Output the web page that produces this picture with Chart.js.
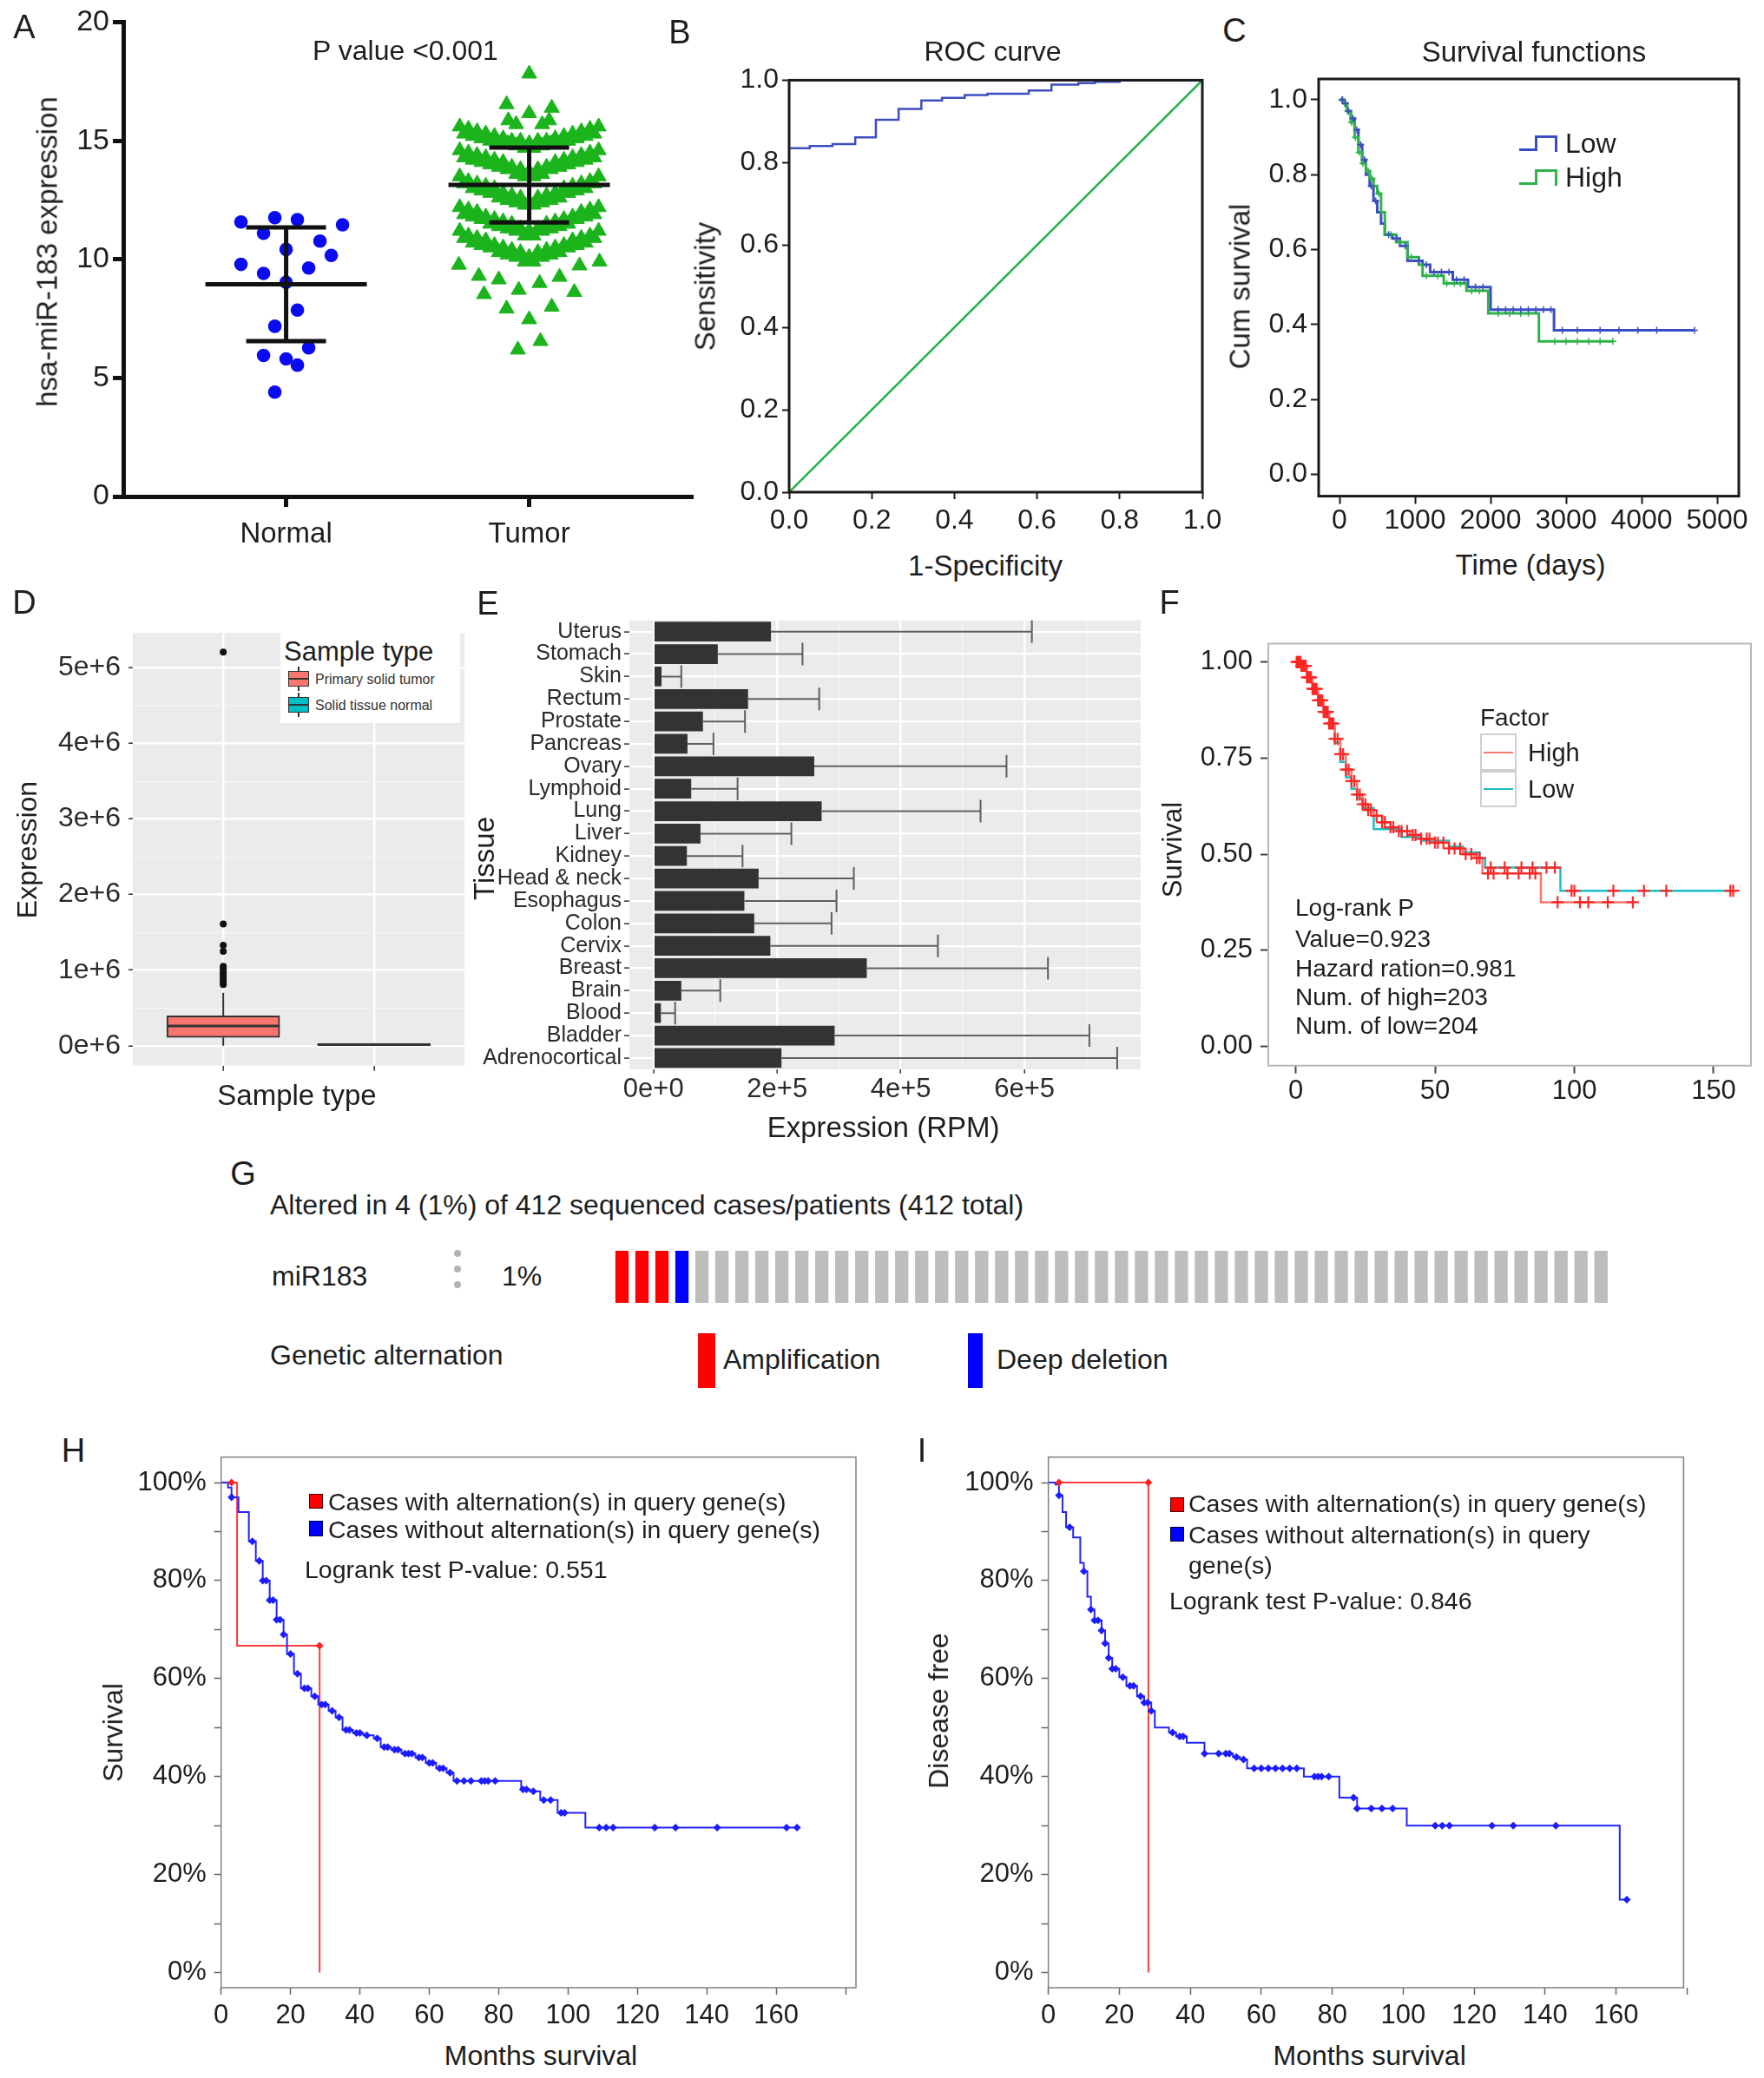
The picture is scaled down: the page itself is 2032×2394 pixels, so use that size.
<!DOCTYPE html>
<html>
<head>
<meta charset="utf-8">
<title>hsa-miR-183</title>
<script src="https://cdn.jsdelivr.net/npm/chart.js@4.4.1/dist/chart.umd.min.js"></script>
<style>
  body { margin:0; width:2032px; height:2394px; background:#fff; position:relative; overflow:hidden;
         font-family:"Liberation Sans", Arial, sans-serif; color:#1e1e1e; }
  canvas { position:absolute; }
  .t  { position:absolute; white-space:nowrap; line-height:1; transform:translate(-50%,-50%); }
  .tl { position:absolute; white-space:nowrap; line-height:1; transform:translate(0,-50%); }
  .tv { position:absolute; white-space:nowrap; line-height:1; transform:translate(-50%,-50%) rotate(-90deg); }
  .bx { position:absolute; box-sizing:border-box; }
</style>
</head>
<body>
<script>
// ---------- A: scatter, normal vs tumor ----------
const groupLabels = ['Normal', 'Tumor'];
const yTicksA = [0, 5, 10, 15, 20];
const normalExpr = [11.58, 11.76, 11.68, 11.46, 11.10, 10.77, 10.42, 10.17, 9.79, 9.41, 9.64, 9.03, 7.86, 7.18, 5.95, 5.80, 6.27, 5.54, 4.40];
const normalMeanSd = [8.95, 2.40];
const tumorMeanSd = [13.14, 1.58];
const tumorBand1 = [15.6, 15.3, 15.5, 15.2, 15.4, 15.1, 15.3, 15.0, 15.2, 14.9, 15.1, 14.9, 15.0, 14.8, 15.0, 14.7, 14.9, 14.7, 15.0, 14.8, 15.0, 14.9, 15.1, 14.9, 15.2, 15.0, 15.3, 15.1, 15.4, 15.2, 15.5, 15.3, 15.6];
const tumorBand2 = [14.6, 14.3, 14.5, 14.2, 14.4, 14.1, 14.3, 14.0, 14.2, 13.9, 14.1, 13.8, 13.9, 13.6, 13.8, 13.5, 13.7, 13.5, 13.8, 13.6, 13.9, 13.8, 14.1, 13.9, 14.2, 14.0, 14.3, 14.1, 14.4, 14.2, 14.5, 14.3, 14.6];
const tumorBand3 = [13.5, 13.2, 13.3, 13.0, 13.2, 12.9, 13.1, 12.8, 13.0, 12.6, 12.8, 12.5, 12.7, 12.4, 12.6, 12.3, 12.4, 12.3, 12.6, 12.4, 12.7, 12.5, 12.8, 12.6, 13.0, 12.8, 13.1, 12.9, 13.2, 13.0, 13.3, 13.2, 13.5];
const tumorBand4 = [12.2, 11.9, 12.1, 11.8, 12.0, 11.7, 11.8, 11.5, 11.7, 11.4, 11.6, 11.3, 11.5, 11.2, 11.3, 11.0, 11.2, 11.0, 11.3, 11.2, 11.5, 11.3, 11.6, 11.4, 11.7, 11.5, 11.8, 11.7, 12.0, 11.8, 12.1, 11.9, 12.2];
const tumorBand5 = [11.2, 10.9, 11.0, 10.7, 10.9, 10.6, 10.8, 10.5, 10.6, 10.3, 10.5, 10.2, 10.4, 10.1, 10.3, 9.9, 10.1, 9.9, 10.3, 10.1, 10.4, 10.2, 10.5, 10.3, 10.6, 10.5, 10.8, 10.6, 10.9, 10.7, 11.0, 10.9, 11.2];
const tumorOutliers = [17.83, 16.54, 16.16, 16.39, 15.86, 15.7, 15.7, 15.86, 9.77, 9.9, 9.3, 9.74, 9.15, 9.26, 9.0, 8.53, 8.71, 8.62, 7.92, 8.0, 7.47, 6.55, 6.19];

// ---------- B: ROC ----------
const rocTicks = [0, 0.2, 0.4, 0.6, 0.8, 1.0];
const rocFpr = [0, 0.05, 0.105, 0.16, 0.21, 0.265, 0.32, 0.37, 0.425, 0.48, 0.58, 0.635, 0.70, 0.74, 0.80, 1.0];
const rocTpr = [0.835, 0.84, 0.845, 0.861, 0.904, 0.93, 0.951, 0.957, 0.964, 0.967, 0.975, 0.989, 0.993, 0.996, 1.0, 1.0];
const refFpr = [0, 1];
const refTpr = [0, 1];

// ---------- C: survival functions (days) ----------
const cDayTicks = [0, 1000, 2000, 3000, 4000, 5000];
const cSurvTicks = [0, 0.2, 0.4, 0.6, 0.8, 1.0];
const lowDays = [0, 60, 100, 150, 200, 250, 300, 350, 400, 450, 500, 550, 600, 700, 800, 900, 1100, 1200, 1500, 1700, 2000, 2840, 4700];
const lowSurv = [1.0, 0.99, 0.97, 0.95, 0.92, 0.88, 0.84, 0.80, 0.77, 0.73, 0.70, 0.67, 0.64, 0.63, 0.61, 0.57, 0.56, 0.54, 0.52, 0.50, 0.44, 0.385, 0.385];
const highDays = [0, 60, 100, 150, 200, 250, 300, 350, 400, 450, 500, 550, 600, 750, 900, 1050, 1100, 1380, 1680, 1970, 2640, 3620];
const highSurv = [1.0, 0.99, 0.97, 0.94, 0.90, 0.86, 0.83, 0.81, 0.79, 0.77, 0.75, 0.70, 0.64, 0.62, 0.58, 0.56, 0.53, 0.51, 0.49, 0.43, 0.355, 0.355];
const lowCensorDays = [40, 80, 120, 180, 230, 280, 330, 420, 480, 650, 760, 870, 1050, 1150, 1250, 1350, 1450, 1550, 1650, 1800, 1900, 2100, 2200, 2300, 2400, 2500, 2600, 2700, 2800, 2950, 3150, 3450, 3700, 3950, 4200, 4700];
const highCensorDays = [30, 70, 110, 160, 210, 260, 310, 380, 430, 520, 680, 800, 950, 1150, 1300, 1420, 1520, 1600, 1750, 1850, 2100, 2250, 2400, 2500, 2850, 3000, 3150, 3300, 3450, 3620];

// ---------- D: box plot by sample type ----------
const sampleTypes = ['Primary solid tumor', 'Solid tissue normal'];
const dTicks = [0, 500000, 1000000, 1500000, 2000000, 2500000, 3000000, 3500000, 4000000, 4500000, 5000000];
// [min, q1, median, q3, max]
const boxPrimary = [0, 110000, 260000, 395000, 700000];
const boxNormal = [5000, 8000, 15000, 30000, 35000];
const primaryOutliers = [5210000, 1610000, 1330000, 1250000, 1050000, 1020000, 990000, 960000, 930000, 900000, 870000, 840000, 810000];

// ---------- E: expression by tissue ----------
const tissues = ['Uterus', 'Stomach', 'Skin', 'Rectum', 'Prostate', 'Pancreas', 'Ovary', 'Lymphoid', 'Lung', 'Liver', 'Kidney', 'Head & neck', 'Esophagus', 'Colon', 'Cervix', 'Breast', 'Brain', 'Blood', 'Bladder', 'Adrenocortical'];
const tissueMean = [190000, 104000, 13000, 153000, 80000, 55000, 260000, 61000, 272000, 76000, 54000, 170000, 147000, 163000, 189000, 345000, 45000, 12000, 293000, 207000];
const tissueUpper = [612000, 241000, 45000, 268000, 148000, 97000, 571000, 136000, 529000, 223000, 144000, 324000, 296000, 288000, 460000, 638000, 108000, 35000, 705000, 750000];
const eTicks = [0, 100000, 200000, 300000, 400000, 500000, 600000, 700000];

// ---------- F: survival by factor (months) ----------
const fSurvTicks = [0, 0.25, 0.5, 0.75, 1.0];
const fMonthTicks = [0, 50, 100, 150];
const fHighMonths = [0, 2, 4, 6, 8, 10, 12, 14, 16, 18, 20, 22, 24, 26, 28, 31, 34, 37, 41, 45, 50, 55, 60, 64, 67, 88, 122];
const fHighSurv = [1.0, 0.99, 0.96, 0.93, 0.90, 0.87, 0.84, 0.80, 0.76, 0.72, 0.69, 0.655, 0.63, 0.615, 0.60, 0.583, 0.57, 0.56, 0.55, 0.54, 0.53, 0.515, 0.50, 0.49, 0.45, 0.375, 0.375];
const fLowMonths = [0, 2, 4, 6, 8, 10, 12, 14, 16, 18, 20, 22, 24, 28, 38, 45, 55, 60, 66, 68, 95, 157];
const fLowSurv = [1.0, 0.99, 0.96, 0.93, 0.90, 0.87, 0.83, 0.79, 0.74, 0.70, 0.67, 0.645, 0.62, 0.565, 0.545, 0.535, 0.52, 0.505, 0.49, 0.465, 0.405, 0.405];
const fHighCensor = [0.3, 0.7, 1, 1.3, 1.7, 2, 2.4, 2.8, 3.2, 3.6, 4, 4.5, 5, 5.5, 6, 6.5, 7, 7.5, 8, 8.5, 9, 9.5, 10, 10.5, 11, 11.5, 12, 12.5, 13, 13.5, 14, 15, 16, 17, 18, 19, 20, 21, 22, 23, 24, 25, 26, 27, 29, 31, 32, 34, 35, 37, 38, 40, 42, 43, 45, 47, 48, 50, 51, 53, 55, 57, 59, 61, 63, 65, 66, 69, 71, 76, 80, 84, 86, 94, 102, 105, 112, 121];
const fLowCensor = [70, 75, 81, 85, 90, 93, 99, 100, 114, 125, 133, 156, 157];

// ---------- G: oncoprint ----------
const oncoStatus = ['amp', 'amp', 'amp', 'del', 'none', 'none', 'none', 'none', 'none', 'none',
  'none', 'none', 'none', 'none', 'none', 'none', 'none', 'none', 'none', 'none',
  'none', 'none', 'none', 'none', 'none', 'none', 'none', 'none', 'none', 'none',
  'none', 'none', 'none', 'none', 'none', 'none', 'none', 'none', 'none', 'none',
  'none', 'none', 'none', 'none', 'none', 'none', 'none', 'none', 'none', 'none'];
const oncoTrack = [1, 1, 1, 1, 1, 1, 1, 1, 1, 1, 1, 1, 1, 1, 1, 1, 1, 1, 1, 1, 1, 1, 1, 1, 1,
  1, 1, 1, 1, 1, 1, 1, 1, 1, 1, 1, 1, 1, 1, 1, 1, 1, 1, 1, 1, 1, 1, 1, 1, 1];

// ---------- H / I: cBioPortal KM (months, %) ----------
const pctTicks = [0, 10, 20, 30, 40, 50, 60, 70, 80, 90, 100];
const monthTicks = [0, 20, 40, 60, 80, 100, 120, 140, 160, 180];
const hNoAltMonths = [0, 2, 3, 5, 8, 10, 12, 14, 16, 18, 19, 21, 23, 26, 28, 31, 33, 35, 38, 41, 44, 46, 49, 52, 56, 59, 62, 65, 67, 86.5, 89, 92, 97, 105, 166];
const hNoAltPct = [100, 99, 97, 94, 88, 84, 80, 76, 72, 69, 65, 61, 58, 56.4, 54.7, 53.4, 52.1, 49.5, 48.9, 48.4, 47.8, 46, 45.5, 44.7, 43.9, 42.8, 41.7, 40.8, 39.1, 37.4, 37, 35.2, 32.6, 29.6, 29.6];
const hNoAltCensor = [3, 9, 11, 12, 13, 14, 15, 16, 17, 18, 20, 22, 24, 25, 27, 29, 30, 32, 34, 36, 37, 39, 40, 42, 45, 47, 48, 50, 51, 53, 54, 55, 57, 58, 60, 61, 63, 64, 66, 68, 70, 72, 75, 76, 77, 79, 87, 88, 90, 93, 95, 98, 99, 109, 111, 113, 125, 131, 143, 163, 166];
const hAltMonths = [0, 4.6, 28.4, 28.4];
const hAltPct = [100, 66.7, 66.7, 0];
const hAltCensorMonths = [3, 28.4];
const hAltCensorPct = [100, 66.7];
const iNoAltMonths = [0, 2, 3, 4, 5, 7, 9, 10, 11, 12, 13, 15, 16, 17, 18, 20, 22, 25, 27, 29, 30, 34, 36, 39, 44, 52, 54, 56, 72, 82, 87, 101, 161, 163];
const iNoAltPct = [100, 99.6, 97.4, 94, 90.9, 88.8, 83.6, 81.9, 76.7, 74.1, 71.9, 69.8, 67.2, 64.2, 62, 60.3, 58.5, 56.4, 55.1, 53.4, 50, 49, 48.2, 46.9, 44.7, 44, 43.5, 41.7, 40, 35.7, 33.5, 30, 14.9, 14.9];
const iNoAltCensor = [3, 6, 10, 12, 13, 14, 15, 16, 17, 18, 19, 21, 23, 24, 26, 27, 28, 29, 35, 37, 38, 44, 48, 50, 51, 53, 55, 58, 60, 62, 64, 66, 68, 70, 75, 76, 77, 79, 86, 87, 91, 94, 97, 109, 111, 113, 125, 131, 143, 163];
const iAltMonths = [0, 28.2, 28.2];
const iAltPct = [100, 100, 0];
const iAltCensorMonths = [3, 28.2];
const iAltCensorPct = [100, 100];

// ---------- layout (pixels), not data ----------
const normalJitterPx = [-52, -13, 13, 65, -26, 39, 0, 52, -52, -26, 26, 0, 13, -13, -26, 0, 26, 13, -13];
const tumorOutlierJitterPx = [0, -26, 0, 26, -24, -15, 15, 23, -81, 81, -58, 58, -35, 35, 12, -52, -12, 52, -26, 26, 0, 13, -13];

Chart.defaults.font.family = '"Liberation Sans", Arial, sans-serif';
Chart.defaults.color = '#1e1e1e';

// grey ggplot panel
Chart.register({
  id: 'panelBg',
  beforeDraw(chart, args, opts) {
    if (!opts || !opts.color) return;
    const a = chart.chartArea, ctx = chart.ctx;
    ctx.save(); ctx.fillStyle = opts.color;
    ctx.fillRect(a.left, a.top, a.right - a.left, a.bottom - a.top);
    ctx.restore();
  }
});
// box round the plot area
Chart.register({
  id: 'frame',
  afterDatasetsDraw(chart, args, opts) {
    if (!opts || !opts.color) return;
    const a = chart.chartArea, ctx = chart.ctx;
    ctx.save(); ctx.strokeStyle = opts.color; ctx.lineWidth = opts.width || 1;
    ctx.strokeRect(a.left, a.top, a.right - a.left, a.bottom - a.top);
    ctx.restore();
  }
});
// horizontal error bars, read from the first dataset
Chart.register({
  id: 'errBars',
  afterDatasetsDraw(chart) {
    const ds = chart.data.datasets[0];
    if (!ds || !ds.errUpper) return;
    const xs = chart.scales.x, ys = chart.scales.y, ctx = chart.ctx;
    ctx.save(); ctx.strokeStyle = '#5e5e5e'; ctx.lineWidth = 2;
    ctx.beginPath();
    ds.errUpper.forEach((u, i) => {
      const py = ys.getPixelForValue(i);
      const x0 = xs.getPixelForValue(ds.data[i]), x1 = xs.getPixelForValue(u);
      ctx.moveTo(x0, py); ctx.lineTo(x1, py);
      ctx.moveTo(x1, py - 13); ctx.lineTo(x1, py + 13);
    });
    ctx.stroke(); ctx.restore();
  }
});

function place(area, axisL, axisB, padT, padR, cfg) {
  const left = Math.floor(area.l - axisL), top = Math.floor(area.t - padT);
  const w = Math.ceil(area.r + padR) - left, h = Math.ceil(area.b + axisB) - top;
  const c = document.createElement('canvas');
  c.width = w; c.height = h;
  c.style.left = left + 'px'; c.style.top = top + 'px';
  c.style.width = w + 'px'; c.style.height = h + 'px';
  document.body.appendChild(c);
  const o = cfg.options;
  o.responsive = false; o.animation = false; o.devicePixelRatio = 1;
  o.layout = { padding: { top: area.t - top, right: left + w - area.r, left: 0, bottom: 0 } };
  o.plugins = Object.assign({ legend: { display: false }, tooltip: { enabled: false } }, o.plugins || {});
  for (const [k, s] of Object.entries(o.scales)) {
    if (s.display === false) continue;
    const aL = area.l - left, aB = top + h - area.b;
    s.afterFit = sc => { if (k === 'x') sc.height = aB; else sc.width = aL; };
  }
  return new Chart(c, cfg);
}

function fixed(list) { return s => { s.ticks = list.map(v => ({ value: v })); }; }
function xy(xs, ys) { return xs.map((x, i) => ({ x, y: ys[i] })); }
function stepAt(ts, ss, t) { let v = ss[0]; ts.forEach((x, i) => { if (x <= t) v = ss[i]; }); return v; }
function censor(ts, ss, list) { return list.map(t => ({ x: t, y: stepAt(ts, ss, t) })); }
function seg(data, color, width, order) {
  return { data, showLine: true, borderColor: color, borderWidth: width, pointRadius: 0, order: order || 0 };
}

function txt(cls, x, y, s, size, extra) {
  const d = document.createElement('div');
  d.className = cls; d.textContent = s;
  d.style.left = x + 'px'; d.style.top = y + 'px'; d.style.fontSize = size + 'px';
  if (extra) Object.assign(d.style, extra);
  document.body.appendChild(d);
}
function bx(x, y, w, h, style) {
  const d = document.createElement('div');
  d.className = 'bx';
  Object.assign(d.style, { left: x + 'px', top: y + 'px', width: w + 'px', height: h + 'px' }, style);
  document.body.appendChild(d);
}

// ===== A =====
const pxPerUnitA = 280;
const tumorBands = [tumorBand1, tumorBand2, tumorBand3, tumorBand4, tumorBand5];
const normalPts = normalExpr.map((v, i) => ({ x: 1 + normalJitterPx[i] / pxPerUnitA, y: v }));
const tumorPts = [];
tumorBands.forEach(b => b.forEach((v, i) => tumorPts.push({ x: 2 + (i - 16) / 16 * 80 / pxPerUnitA, y: v })));
tumorOutliers.forEach((v, i) => tumorPts.push({ x: 2 + tumorOutlierJitterPx[i] / pxPerUnitA, y: v }));
function sdLines(xc, ms) {
  const m = ms[0], sd = ms[1], wMean = 93 / pxPerUnitA, wCap = 46 / pxPerUnitA;
  return [
    seg([{ x: xc - wMean, y: m }, { x: xc + wMean, y: m }], '#111', 5),
    seg([{ x: xc - wCap, y: m + sd }, { x: xc + wCap, y: m + sd }], '#111', 5),
    seg([{ x: xc - wCap, y: m - sd }, { x: xc + wCap, y: m - sd }], '#111', 5),
    seg([{ x: xc, y: m - sd }, { x: xc, y: m + sd }], '#111', 5)
  ];
}
place({ l: 142, r: 798, t: 25.7, b: 572 }, 142, 70, 25, 12, {
  type: 'scatter',
  data: { datasets: [
    ...sdLines(1, normalMeanSd), ...sdLines(2, tumorMeanSd),
    { data: normalPts, pointStyle: 'circle', pointRadius: 7.8, backgroundColor: '#0b0bf2', borderWidth: 0, order: 1 },
    { data: tumorPts, pointStyle: 'triangle', pointRadius: 10, backgroundColor: '#1cb41c', borderColor: '#1cb41c', borderWidth: 1, order: 1 }
  ] },
  options: { scales: {
    x: { type: 'linear', min: 0.33, max: 2.673, afterBuildTicks: fixed([1, 2]),
         ticks: { callback: v => groupLabels[v - 1], font: { size: 33 }, padding: 12, autoSkip: false, maxRotation: 0 },
         grid: { drawOnChartArea: false, tickLength: 12, tickWidth: 5, tickColor: '#111' },
         border: { color: '#111', width: 5 } },
    y: { min: 0, max: 20, afterBuildTicks: fixed(yTicksA),
         ticks: { font: { size: 34 }, padding: 4 },
         grid: { drawOnChartArea: false, tickLength: 12, tickWidth: 5, tickColor: '#111' },
         border: { color: '#111', width: 5 } }
  } }
});

// ===== B =====
const boxAxis = (ticks, fmt, size, len, pad) => ({
  afterBuildTicks: fixed(ticks),
  ticks: { callback: fmt, font: { size }, padding: pad, autoSkip: false, maxRotation: 0 },
  grid: { drawOnChartArea: false, tickLength: len, tickWidth: 2, tickColor: '#1a1a1a' },
  border: { display: false }
});
place({ l: 909, r: 1385, t: 92.4, b: 567 }, 100, 60, 30, 40, {
  type: 'scatter',
  data: { datasets: [
    { data: xy(rocFpr, rocTpr), showLine: true, stepped: true, borderColor: '#3d4fbf', borderWidth: 2.5, pointRadius: 0 },
    { data: xy(refFpr, refTpr), showLine: true, borderColor: '#23b14d', borderWidth: 2.5, pointRadius: 0 }
  ] },
  options: { plugins: { frame: { color: '#1a1a1a', width: 3 } }, scales: {
    x: Object.assign({ type: 'linear', min: 0, max: 1 }, boxAxis(rocTicks, v => v.toFixed(1), 32, 8, 6)),
    y: Object.assign({ min: 0, max: 1 }, boxAxis(rocTicks, v => v.toFixed(1), 32, 8, 4))
  } }
});

// ===== C =====
place({ l: 1519, r: 2003, t: 91, b: 571.6 }, 80, 50, 30, 28, {
  type: 'scatter',
  data: { datasets: [
    { data: censor(lowDays, lowSurv, lowCensorDays), pointStyle: 'cross', pointRadius: 4, borderColor: '#3c4cc4', borderWidth: 1.5 },
    { data: censor(highDays, highSurv, highCensorDays), pointStyle: 'cross', pointRadius: 4, borderColor: '#2fb34a', borderWidth: 1.5 },
    { data: xy(highDays, highSurv), showLine: true, stepped: true, borderColor: '#2fb34a', borderWidth: 3, pointRadius: 0 },
    { data: xy(lowDays, lowSurv), showLine: true, stepped: true, borderColor: '#3c4cc4', borderWidth: 3, pointRadius: 0 }
  ] },
  options: { plugins: { frame: { color: '#1a1a1a', width: 3 } }, scales: {
    x: Object.assign({ type: 'linear', min: -276, max: 5287 }, boxAxis(cDayTicks, v => String(v), 32, 9, 0)),
    y: Object.assign({ min: -0.058, max: 1.0556 }, boxAxis(cSurvTicks, v => v.toFixed(1), 32, 9, 4))
  } }
});

// ===== D =====
const dMajor = v => v % 1000000 === 0;
const boxHalf = 65 / 173.6;
function boxLines(xc, b) {
  return [
    seg([{ x: xc - boxHalf, y: b[2] }, { x: xc + boxHalf, y: b[2] }], '#333', 3),
    seg([{ x: xc, y: b[3] }, { x: xc, y: b[4] }], '#333', 2),
    seg([{ x: xc, y: b[0] }, { x: xc, y: b[1] }], '#333', 2)
  ];
}
place({ l: 153, r: 535, t: 721.4, b: 1227.7 }, 130, 30, 20, 10, {
  type: 'scatter',
  data: { datasets: [
    ...boxLines(1, boxPrimary), ...boxLines(2, boxNormal),
    { data: primaryOutliers.map(v => ({ x: 1, y: v })), pointRadius: 4, backgroundColor: '#111', borderWidth: 0, order: 0 },
    { type: 'bar', data: [{ x: 1, y: [boxPrimary[1], boxPrimary[3]] }, { x: 2, y: [boxNormal[1], boxNormal[3]] }],
      backgroundColor: ['#f8766d', '#00bfc4'], borderColor: '#333', borderWidth: 2, borderSkipped: false, barThickness: 130, order: 2 }
  ] },
  options: { plugins: { panelBg: { color: '#ebebeb' } }, scales: {
    x: { type: 'linear', min: 0.4, max: 2.6, offset: false, afterBuildTicks: fixed([1, 2]),
         ticks: { callback: () => '', font: { size: 10 } },
         grid: { offset: false, color: '#ffffff', lineWidth: 2.4, tickLength: 6, tickWidth: 1.5, tickColor: '#333' },
         border: { display: false } },
    y: { min: -264000, max: 5464000, afterBuildTicks: fixed(dTicks),
         ticks: { callback: v => dMajor(v) ? (v / 1000000) + 'e+6' : '', font: { size: 32 }, padding: 9, color: '#2b2b2b', autoSkip: false },
         grid: { color: c => (c.tick && dMajor(c.tick.value)) ? '#ffffff' : '#f6f6f6',
                 lineWidth: c => (c.tick && dMajor(c.tick.value)) ? 2.4 : 1.2,
                 tickLength: 5, tickWidth: 1.5,
                 tickColor: c => (c.tick && dMajor(c.tick.value)) ? '#333' : 'rgba(0,0,0,0)' },
         border: { display: false } }
  } }
});

// ===== E =====
const eMajor = v => v % 200000 === 0;
place({ l: 725, r: 1314, t: 714.8, b: 1231.8 }, 185, 50, 20, 14, {
  type: 'bar',
  data: { labels: tissues, datasets: [
    { data: tissueMean, errUpper: tissueUpper, backgroundColor: '#333333', barPercentage: 0.88, categoryPercentage: 1 }
  ] },
  options: { indexAxis: 'y', plugins: { panelBg: { color: '#ebebeb' } }, scales: {
    x: { type: 'linear', min: -39000, max: 788000, afterBuildTicks: fixed(eTicks),
         ticks: { callback: v => eMajor(v) ? (v === 0 ? '0e+0' : (v / 100000) + 'e+5') : '', font: { size: 31 }, padding: 0, color: '#2b2b2b', autoSkip: false, maxRotation: 0 },
         grid: { color: c => (c.tick && eMajor(c.tick.value)) ? '#ffffff' : '#f6f6f6',
                 lineWidth: c => (c.tick && eMajor(c.tick.value)) ? 2.4 : 1.2,
                 tickLength: 5, tickWidth: 1.5,
                 tickColor: c => (c.tick && eMajor(c.tick.value)) ? '#333' : 'rgba(0,0,0,0)' },
         border: { display: false } },
    y: { ticks: { font: { size: 25 }, padding: 3, color: '#2b2b2b', autoSkip: false },
         grid: { offset: false, color: '#ffffff', lineWidth: 2.2, tickLength: 6, tickWidth: 1.5, tickColor: '#333' },
         border: { display: false } }
  } }
});

// ===== F =====
const fAxis = (ticks, fmt, pad) => ({
  afterBuildTicks: fixed(ticks),
  ticks: { callback: fmt, font: { size: 31 }, padding: pad, autoSkip: false, maxRotation: 0 },
  grid: { drawOnChartArea: false, tickLength: 9, tickWidth: 2, tickColor: '#444' },
  border: { display: false }
});
place({ l: 1461, r: 2017, t: 741.5, b: 1227.7 }, 120, 50, 30, 14, {
  type: 'scatter',
  data: { datasets: [
    { data: censor(fHighMonths, fHighSurv, fHighCensor), pointStyle: 'cross', pointRadius: 7, borderColor: '#ff2626', borderWidth: 2.2 },
    { data: censor(fLowMonths, fLowSurv, fLowCensor), pointStyle: 'cross', pointRadius: 7, borderColor: '#ff2626', borderWidth: 2.2 },
    { data: xy(fHighMonths, fHighSurv), showLine: true, stepped: true, borderColor: '#f8766d', borderWidth: 2.5, pointRadius: 0 },
    { data: xy(fLowMonths, fLowSurv), showLine: true, stepped: true, borderColor: '#19bfc6', borderWidth: 2.5, pointRadius: 0 }
  ] },
  options: { plugins: { frame: { color: '#b8b8b8', width: 2 } }, scales: {
    x: Object.assign({ type: 'linear', min: -9.85, max: 163.4 }, fAxis(fMonthTicks, v => String(v), 2)),
    y: Object.assign({ min: -0.05, max: 1.0477 }, fAxis(fSurvTicks, v => v.toFixed(2), 9))
  } }
});

// ===== G =====
const oncoColors = { amp: '#ff0000', del: '#0000ff', none: '#bdbdbd' };
place({ l: 705.75, r: 1855.75, t: 1441, b: 1501 }, 0, 0, 0, 0, {
  type: 'bar',
  data: { labels: oncoStatus.map((s, i) => 'case' + (i + 1)), datasets: [
    { data: oncoTrack, backgroundColor: oncoStatus.map(s => oncoColors[s]), barPercentage: 0.665, categoryPercentage: 1 }
  ] },
  options: { scales: { x: { display: false }, y: { display: false, min: 0, max: 1 } } }
});

// ===== H / I =====
const kmAxis = (ticks, fmt, pad, len) => ({
  afterBuildTicks: fixed(ticks),
  ticks: { callback: fmt, font: { size: 31 }, padding: pad, autoSkip: false, maxRotation: 0 },
  grid: { drawOnChartArea: false, tickLength: len, tickWidth: 1.5, tickColor: '#666' },
  border: { display: false }
});
function kmPanel(area, noM, noP, noC, altM, altP, altCM, altCP, xmax) {
  place(area, 150, 50, 30, 20, {
    type: 'scatter',
    data: { datasets: [
      { data: censor(noM, noP, noC), pointStyle: 'rectRot', pointRadius: 4.5, backgroundColor: '#1c1cff', borderWidth: 0 },
      { data: xy(altCM, altCP), pointStyle: 'rectRot', pointRadius: 4.5, backgroundColor: '#ff2020', borderWidth: 0 },
      { data: xy(noM, noP), showLine: true, stepped: true, borderColor: '#2424ff', borderWidth: 2, pointRadius: 0 },
      { data: xy(altM, altP), showLine: true, stepped: true, borderColor: '#ff3b3b', borderWidth: 2, pointRadius: 0 }
    ] },
    options: { plugins: { frame: { color: '#7f7f7f', width: 1.5 } }, scales: {
      x: Object.assign({ type: 'linear', min: 0, max: xmax }, kmAxis(monthTicks, v => v === 180 ? '' : String(v), 6, 8)),
      y: Object.assign({ min: -3.1, max: 105.2 }, kmAxis(pctTicks, v => v % 20 === 0 ? v + '%' : '', 9, 8))
    } }
  });
}
kmPanel({ l: 254.7, r: 986, t: 1678.7, b: 2290 }, hNoAltMonths, hNoAltPct, hNoAltCensor, hAltMonths, hAltPct, hAltCensorMonths, hAltCensorPct, 183);
kmPanel({ l: 1207.6, r: 1939.4, t: 1678.7, b: 2290 }, iNoAltMonths, iNoAltPct, iNoAltCensor, iAltMonths, iAltPct, iAltCensorMonths, iAltCensorPct, 179);

// ===== text, legends =====
[['A', 28, 31], ['B', 783, 37], ['C', 1422, 35], ['D', 28, 694], ['E', 562, 695], ['F', 1347, 694],
 ['G', 280, 1352], ['H', 84.5, 1671], ['I', 1062, 1671]].forEach(p => txt('t', p[1], p[2], p[0], 38));

// A
txt('t', 467, 58, 'P value <0.001', 32);
txt('tv', 54, 290, 'hsa-miR-183 expression', 33);
// B
txt('t', 1143.5, 58.5, 'ROC curve', 32);
txt('t', 1135, 650.5, '1-Specificity', 33);
txt('tv', 812, 329.6, 'Sensitivity', 33);
// C
txt('t', 1767, 58.5, 'Survival functions', 33);
txt('t', 1763, 650, 'Time (days)', 33);
txt('tv', 1428, 330, 'Cum survival', 33);
function stepIcon(y, color) {
  bx(1750, y + 13.5, 21, 3, { background: color });
  bx(1768, y - 1.5, 3, 18, { background: color });
  bx(1768, y - 1.5, 26, 3, { background: color });
  bx(1791, y - 1.5, 3, 19, { background: color });
}
stepIcon(157, '#3c4cc4');
stepIcon(196, '#2fb34a');
txt('tl', 1803, 165, 'Low', 32);
txt('tl', 1803, 204, 'High', 32);
// D
txt('tv', 31, 979, 'Expression', 32);
txt('t', 342, 1260.6, 'Sample type', 33);
bx(323, 726, 207, 107, { background: '#ffffff' });
txt('tl', 327, 750, 'Sample type', 31);
function boxKey(y, color) {
  bx(343.2, y - 5, 1.6, 5, { background: '#333' });
  bx(332, y, 24, 18, { background: color, border: '1.5px solid #333' });
  bx(332, y + 8.2, 24, 1.6, { background: '#333' });
  bx(343.2, y + 18, 1.6, 5, { background: '#333' });
}
boxKey(773, '#f8766d');
boxKey(803, '#00bfc4');
txt('tl', 363, 782.5, sampleTypes[0], 16, { color: '#333' });
txt('tl', 363, 812.6, sampleTypes[1], 16, { color: '#333' });
// E
txt('tv', 557, 989, 'Tissue', 33);
txt('t', 1017.6, 1298, 'Expression (RPM)', 33);
// F
txt('tv', 1350, 979, 'Survival', 31);
txt('tl', 1705, 827, 'Factor', 28);
bx(1705, 845, 42, 43, { border: '2px solid #cfcfcf', background: '#fff' });
bx(1705, 888, 42, 42, { border: '2px solid #cfcfcf', background: '#fff' });
bx(1709, 865.5, 34, 2.5, { background: '#f8766d' });
bx(1709, 907.5, 34, 2.5, { background: '#19bfc6' });
txt('tl', 1760, 867, 'High', 29);
txt('tl', 1760, 909, 'Low', 29);
['Log-rank P', 'Value=0.923', 'Hazard ration=0.981', 'Num. of high=203', 'Num. of low=204']
  .forEach((s, i) => txt('tl', 1492, [1046, 1082, 1116, 1149, 1182][i], s, 28));
// G
txt('tl', 311, 1388, 'Altered in 4 (1%) of 412 sequenced cases/patients (412 total)', 32);
txt('tl', 313, 1470, 'miR183', 32);
[1444, 1462, 1480].forEach(y => bx(523, y - 4, 8, 8, { background: '#b3b3b3', borderRadius: '50%' }));
txt('tl', 578, 1470, '1%', 32);
txt('tl', 311, 1561, 'Genetic alternation', 32);
bx(804, 1536, 20, 63, { background: '#ff0000' });
txt('tl', 833, 1566, 'Amplification', 32);
bx(1115, 1536, 17, 63, { background: '#0000ff' });
txt('tl', 1148, 1566, 'Deep deletion', 32);
// H
txt('tv', 130, 1995.5, 'Survival', 32);
txt('t', 623, 2368, 'Months survival', 32);
bx(356, 1721, 16, 17, { background: '#ff0000', border: '1px solid #400' });
bx(356, 1752, 16, 18, { background: '#0000ff', border: '1px solid #004' });
txt('tl', 378, 1730, 'Cases with alternation(s) in query gene(s)', 28.5);
txt('tl', 378, 1762, 'Cases without alternation(s) in query gene(s)', 28.5);
txt('tl', 351, 1808, 'Logrank test P-value: 0.551', 28.5);
// I
txt('tv', 1081, 1971, 'Disease free', 32);
txt('t', 1577.6, 2368, 'Months survival', 32);
bx(1348, 1725, 16, 17, { background: '#ff0000', border: '1px solid #400' });
bx(1348, 1759, 16, 17, { background: '#0000ff', border: '1px solid #004' });
txt('tl', 1369, 1732, 'Cases with alternation(s) in query gene(s)', 28.5);
txt('tl', 1369, 1768, 'Cases without alternation(s) in query', 28.5);
txt('tl', 1369, 1803, 'gene(s)', 28.5);
txt('tl', 1347, 1844, 'Logrank test P-value: 0.846', 28.5);
</script>
</body>
</html>
